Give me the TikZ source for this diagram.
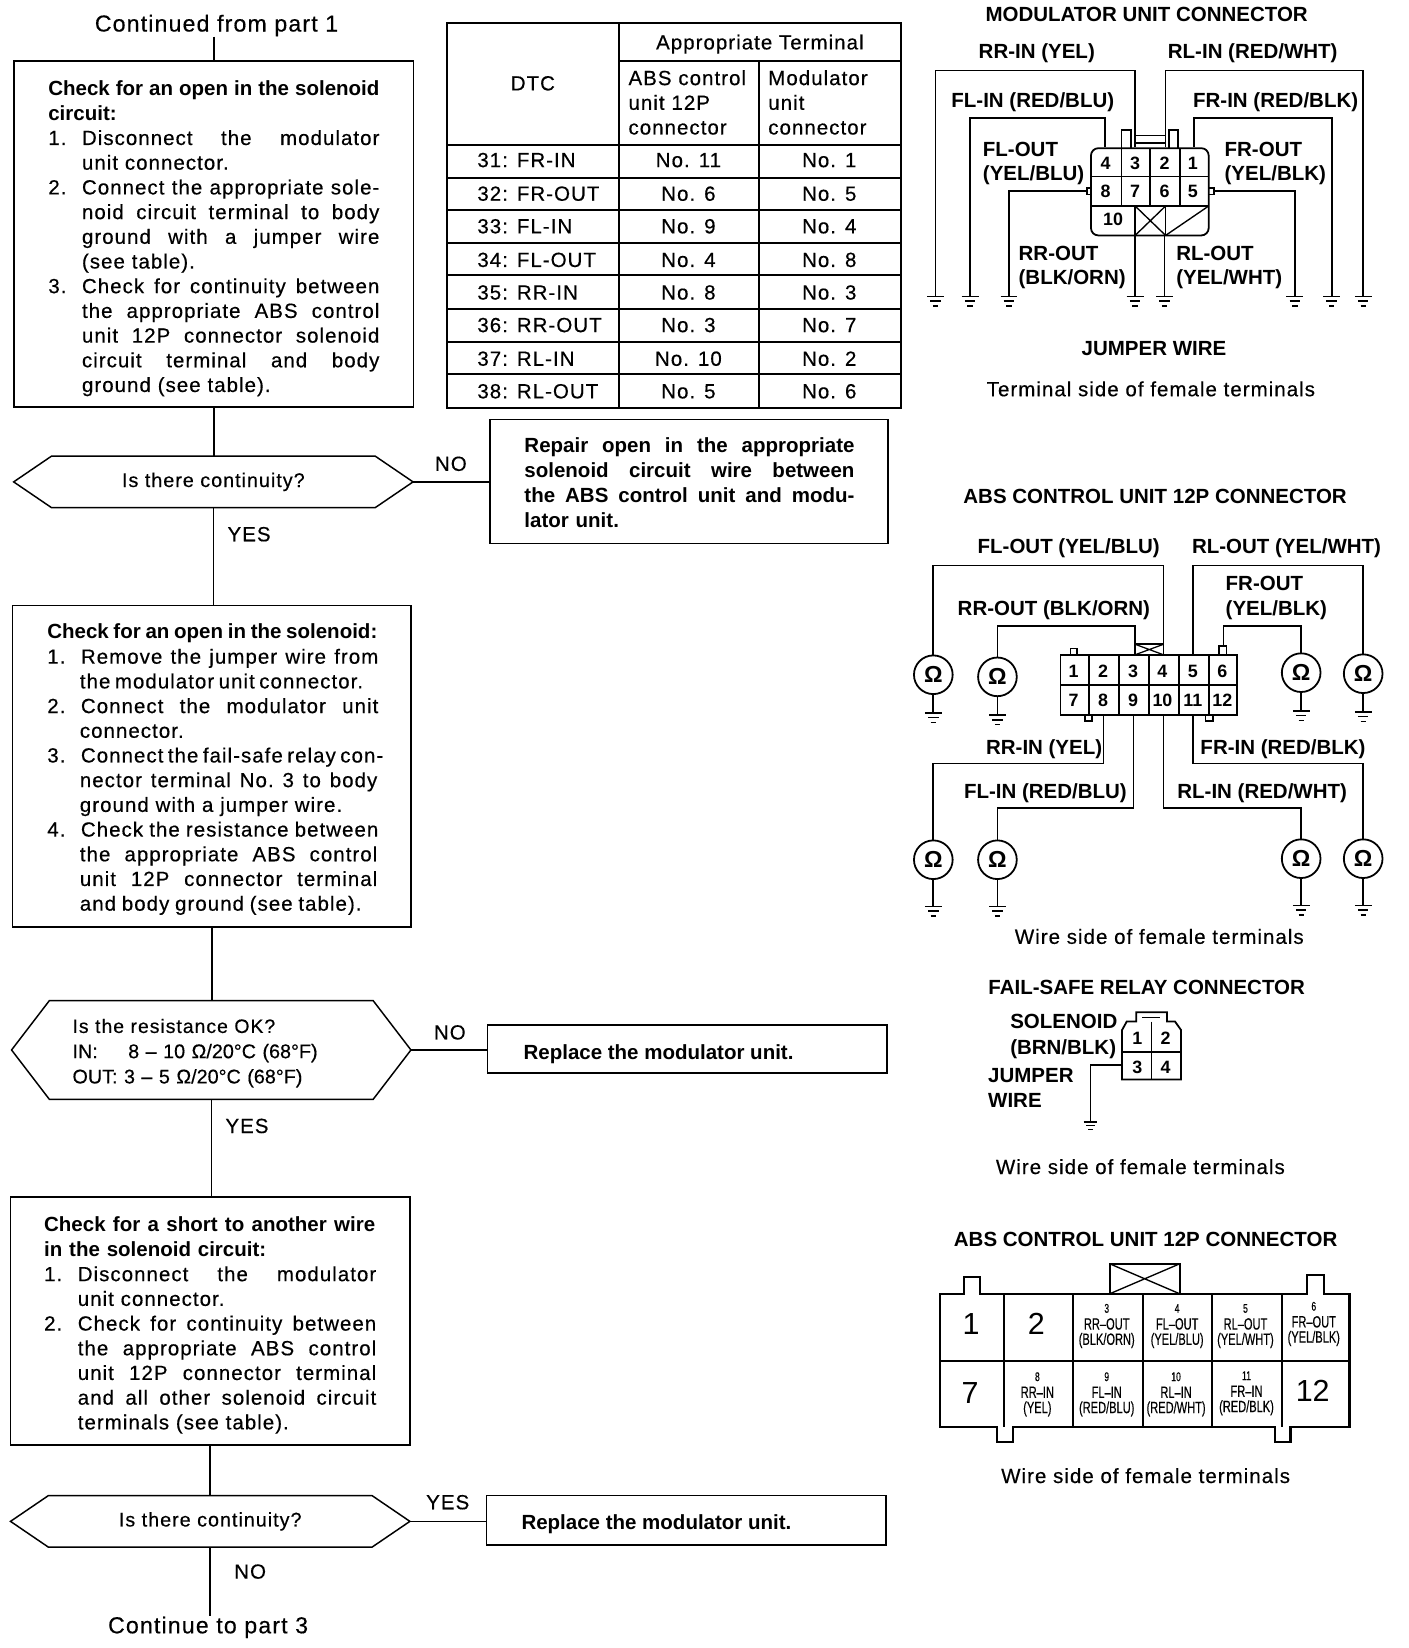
\documentclass[tikz,border=0pt]{standalone}
\usepackage{fontspec}
\setmainfont[LetterSpace=5,FakeBold=0.4]{Liberation Sans}
\newfontfamily\hdfam{Liberation Sans}
\newfontfamily\nofam[FakeBold=0.4]{Liberation Sans}
\newcommand\bld[1]{{\hdfam\bfseries #1}}
\newcommand\jl[2]{\makebox[#1pt][s]{\frenchspacing\spaceskip=0pt\xspaceskip=0pt #2}}
\newcommand\itm[2]{\makebox[32pt][l]{#1}#2}
\newcommand\hexa[1]{\draw[flow] (#1.west) -- ([xshift=36pt]#1.north west) -- ([xshift=-36pt]#1.north east) -- (#1.east) -- ([xshift=-36pt]#1.south east) -- ([xshift=36pt]#1.south west) -- cycle;}
\newcommand\nar[1]{\scalebox{.68}[1]{#1}}
\tikzset{
  flow/.style={line width=1.4pt,line join=miter},
  wire/.style={line width=1.7pt,line join=miter},
  boxs/.style={draw,line width=1.5pt,inner sep=0pt,outer sep=0pt},
  hexn/.style={inner sep=0pt,outer sep=0pt},
  blk/.style={anchor=north west,inner sep=0pt,outer sep=0pt,text width=345pt,align=left,font=\fontsize{19.5}{23.5}\selectfont},
  rg/.style={inner sep=0pt,anchor=base west,yshift=-7pt,font=\fontsize{19.5}{23.5}\selectfont},
  rc/.style={rg,anchor=base},
  hl/.style={inner sep=0pt,anchor=base west,yshift=-7pt,font=\hdfam\bfseries\fontsize{19.5}{23.5}\selectfont},
  hc/.style={hl,anchor=base},
  pin/.style={inner sep=0pt,anchor=base,yshift=-6pt,font=\hdfam\bfseries\fontsize{17}{20}\selectfont},
  smalltxt/.style={inner sep=0pt,anchor=base,yshift=-5pt,font=\nofam\fontsize{15.5}{18}\selectfont},
  smallnum/.style={inner sep=0pt,anchor=base,yshift=-4pt,font=\nofam\fontsize{12}{14}\selectfont},
  bignum/.style={inner sep=0pt,anchor=base,yshift=-10pt,font=\hdfam\fontsize{29}{32}\selectfont},
  meter/.style={circle,draw,line width=1.7pt,minimum size=36.8pt,inner sep=0pt,outer sep=0pt,font=\hdfam\bfseries\fontsize{22}{24}\selectfont},
  gnd/.pic={\draw[line width=1.4pt] (-8,0)--(8,0) (-5,4.5)--(5,4.5) (-2.5,9)--(2.5,9);},
}
\begin{document}
\begin{tikzpicture}[x=1pt,y=-1pt]
\useasboundingbox (0,0) rectangle (1340,1568);
\fill[white] (0,0) rectangle (1340,1568);

% ---------- flow, left column
\node[rc,font=\fontsize{22}{26}\selectfont,yshift=-1pt] (cont) at (206,22) {Continued from part 1};
\node[boxs,minimum width=380pt,minimum height=329pt] (b1) at (203.5,222.5) {};
\node[blk] (b1t) at (46,74.5) {%
\bld{\jl{315}{Check for an open in the solenoid}}\strut\\
\bld{circuit:}\\
\itm{1.}{\jl{283}{Disconnect the modulator}}\\
\hspace*{32pt}unit connector.\\
\itm{2.}{\jl{283}{Connect the appropriate sole-}}\\
\hspace*{32pt}\jl{283}{noid circuit terminal to body}\\
\hspace*{32pt}\jl{283}{ground with a jumper wire}\\
\hspace*{32pt}(see table).\\
\itm{3.}{\jl{283}{Check for continuity between}}\\
\hspace*{32pt}\jl{283}{the appropriate ABS control}\\
\hspace*{32pt}\jl{283}{unit 12P connector solenoid}\\
\hspace*{32pt}\jl{283}{circuit terminal and body}\\
\hspace*{32pt}ground (see table).};

\node[hexn,minimum width=380pt,minimum height=49pt,font=\fontsize{18.8}{22}\selectfont] (d1) at (203,458.5) {\raisebox{-3pt}{Is there continuity?}};
\hexa{d1}
\node[rc] (no1) at (429,441) {NO};
\node[rc] (yes1) at (237,508) {YES};
\node[boxs,minimum width=379pt,minimum height=118pt] (r1) at (655.5,458) {};
\node[blk] (r1t) at (499,414.5) {%
\bld{\jl{314}{Repair open in the appropriate}}\strut\\
\bld{\jl{314}{solenoid circuit wire between}}\\
\bld{\jl{314}{the ABS control unit and modu-}}\\
\bld{lator unit.}};

\node[boxs,minimum width=379pt,minimum height=306pt] (b2) at (201.5,729) {};
\node[blk] (b2t) at (45,591.5) {%
\bld{\jl{314}{Check for an open in the solenoid:}}\strut\\
\itm{1.}{\jl{283}{Remove the jumper wire from}}\\
\hspace*{31pt}\jl{266}{the modulator unit connector.}\\
\itm{2.}{\jl{283}{Connect the modulator unit}}\\
\hspace*{31pt}connector.\\
\itm{3.}{\jl{283}{Connect the fail-safe relay con-}}\\
\hspace*{31pt}\jl{283}{nector terminal No. 3 to body}\\
\hspace*{31pt}ground with a jumper wire.\\
\itm{4.}{\jl{283}{Check the resistance between}}\\
\hspace*{31pt}\jl{283}{the appropriate ABS control}\\
\hspace*{31pt}\jl{283}{unit 12P connector terminal}\\
\hspace*{31pt}\jl{268}{and body ground (see table).}};

\node[hexn,minimum width=380pt,minimum height=94pt] (d2) at (201,999) {};
\hexa{d2}
\node[blk,font=\fontsize{18.5}{24}\selectfont] (d2t) at (69,966) {%
Is the resistance OK?\strut\\
{\nofam\fontsize{18.8}{24}\selectfont\makebox[53pt][l]{IN:}8 – 10 Ω/20°C (68°F)}\\
{\nofam\fontsize{18.8}{24}\selectfont OUT: 3 – 5 Ω/20°C (68°F)}};
\node[rc] (no2) at (428,982) {NO};
\node[rc] (yes2) at (235,1071) {YES};
\node[boxs,minimum width=380pt,minimum height=46pt] (r2) at (654,998) {};
\node[hl] (r2t) at (498,1001) {Replace the modulator unit.};

\node[boxs,minimum width=380pt,minimum height=236pt] (b3) at (200,1257) {};
\node[blk] (b3t) at (42,1155.5) {%
\bld{\jl{315}{Check for a short to another wire}}\strut\\
\bld{in the solenoid circuit:}\\
\itm{1.}{\jl{284}{Disconnect the modulator}}\\
\hspace*{32pt}unit connector.\\
\itm{2.}{\jl{284}{Check for continuity between}}\\
\hspace*{32pt}\jl{284}{the appropriate ABS control}\\
\hspace*{32pt}\jl{284}{unit 12P connector terminal}\\
\hspace*{32pt}\jl{284}{and all other solenoid circuit}\\
\hspace*{32pt}terminals (see table).};

\node[hexn,minimum width=380pt,minimum height=49pt,font=\fontsize{18.8}{22}\selectfont] (d3) at (200,1447.5) {\raisebox{-2pt}{Is there continuity?}};
\hexa{d3}
\node[rc] (yes3) at (426,1429) {YES};
\node[rc] (no3) at (238,1495) {NO};
\node[boxs,minimum width=380pt,minimum height=47pt] (r3) at (653,1446.5) {};
\node[hl] (r3t) at (496,1448) {Replace the modulator unit.};
\node[rc,font=\fontsize{22}{26}\selectfont,yshift=-1pt] (contb) at (198,1546) {Continue to part 3};

\draw[flow] (cont.south -| b1.north) -- (b1.north);
\draw[flow] (b1.south) -- (d1.north -| b1.south);
\draw[flow] (d1.east) -- (d1.east -| r1.west);
\draw[flow] (d1.south) -- (b2.north -| d1.south);
\draw[flow] (b2.south) -- (d2.north -| b2.south);
\draw[flow] (d2.east) -- (d2.east -| r2.west);
\draw[flow] (d2.south) -- (b3.north -| d2.south);
\draw[flow] (b3.south) -- (d3.north -| b3.south);
\draw[flow] (d3.east) -- (d3.east -| r3.west);
\draw[flow] (d3.south) -- (contb.north -| d3.south);

% ---------- table
\draw[line width=1.9pt] (425,22) rectangle (857,388);
\draw[line width=1.7pt] (589,22) -- (589,388) (722,58) -- (722,388) (589,58) -- (857,58);
\foreach \yy in {138,169,200,231,262,294,325,356} \draw[line width=1.8pt] (425,\yy) -- (857,\yy);
\node[rc] (tha) at (723,40) {Appropriate Terminal};
\node[rc] (thd) at (507,79) {DTC};
\node[blk,text width=130pt] (thb) at (598,64.5) {ABS control\strut\\unit 12P\\connector};
\node[blk,text width=130pt] (thc) at (731,64.5) {Modulator\strut\\unit\\connector};
\foreach \i/\dd/\aa/\mm/\yy in {1/31: FR-IN/No. 11/No. 1/152,2/32: FR-OUT/No. 6/No. 5/184,3/33: FL-IN/No. 9/No. 4/215,4/34: FL-OUT/No. 4/No. 8/247,5/35: RR-IN/No. 8/No. 3/278,6/36: RR-OUT/No. 3/No. 7/309,7/37: RL-IN/No. 10/No. 2/341,8/38: RL-OUT/No. 5/No. 6/372}{
  \node[rg] (rd\i) at (454,\yy) {\dd};
  \node[rc] (ra\i) at (655,\yy) {\aa};
  \node[rc] (rm\i) at (789,\yy) {\mm};
}

% ---------- modulator unit connector
\node[hc] (mt) at (1091,13) {MODULATOR UNIT CONNECTOR};
\node[hl] (ml1) at (931,49) {RR-IN (YEL)};
\node[hl] (ml2) at (1111,49) {RL-IN (RED/WHT)};
\node[hl] (ml3) at (905,95) {FL-IN (RED/BLU)};
\node[hl] (ml4) at (1135,95) {FR-IN (RED/BLK)};
\node[hl] (ml5) at (935,142) {FL-OUT};
\node[hl] (ml6) at (935,165) {(YEL/BLU)};
\node[hl] (ml7) at (1165,142) {FR-OUT};
\node[hl] (ml8) at (1165,165) {(YEL/BLK)};
\node[hl] (ml9) at (969,241) {RR-OUT};
\node[hl] (ml10) at (969,264) {(BLK/ORN)};
\node[hl] (ml11) at (1119,241) {RL-OUT};
\node[hl] (ml12) at (1119,264) {(YEL/WHT)};
\node[hc] (ml13) at (1098,331) {JUMPER WIRE};
\node[rc] (ml14) at (1095,370) {Terminal side of female terminals};
% body
\draw[wire,rounded corners=7pt] (1038,196) -- (1038,141) -- (1150,141) -- (1150,224) -- (1038,224) -- cycle;
\draw[wire] (1038,168) -- (1150,168) (1038,196) -- (1150,196);
\draw[wire] (1067,141) -- (1067,196) (1094.5,141) -- (1094.5,196) (1122.5,141) -- (1122.5,196);
\draw[wire] (1080,196) -- (1080,224) (1109,196) -- (1109,224);
\draw[line width=1.3pt] (1080,196) -- (1109,224) (1109,196) -- (1080,224) (1109,224) -- (1150,196);
\draw[wire] (1067,141) -- (1067,124) -- (1076,124) -- (1076,141) (1112,141) -- (1112,124) -- (1121,124) -- (1121,141);
\draw[line width=1.2pt] (1080,129) -- (1109,129) (1080,136) -- (1109,136);
\draw[wire] (1038,179) -- (1034,179) -- (1034,185) -- (1038,185) (1150,179) -- (1155,179) -- (1155,185) -- (1150,185);
\foreach \n/\xx/\yy in {4/1052/155,3/1080/155,2/1108/155,1/1135/155,8/1052/182,7/1080/182,6/1108/182,5/1135/182,10/1059/209}
  \node[pin] (mp\n) at (\xx,\yy) {\n};
% wires
\foreach \n/\xx in {1/890,2/923,3/960,4/1080,5/1108,6/1232,7/1267,8/1297}{
  \coordinate (mg\n) at (\xx,282);
  \pic at (mg\n) {gnd};
}
\draw[wire] (mg1) -- ++(0,-215) -| (1080,140);
\draw[wire] (mg2) -- ++(0,-170) -| (1051,140);
\draw[wire] (mg3) -- ++(0,-100) -- (1034,182);
\draw[wire] (mg4) -- (1080,224);
\draw[wire] (mg5) -- (1108,224);
\draw[wire] (mg6) -- ++(0,-100) -- (1155,182);
\draw[wire] (mg7) -- ++(0,-170) -| (1136,140);
\draw[wire] (mg8) -- ++(0,-215) -| (1109,140);

% ---------- ABS connector with meters
\node[hc] (at) at (1099,472) {ABS CONTROL UNIT 12P CONNECTOR};
\node[hl] (al1) at (930,520) {FL-OUT (YEL/BLU)};
\node[hl] (al2) at (1134,520) {RL-OUT (YEL/WHT)};
\node[hl] (al3) at (1166,555) {FR-OUT};
\node[hl] (al4) at (1166,579) {(YEL/BLK)};
\node[hl] (al5) at (911,579) {RR-OUT (BLK/ORN)};
\node[hl] (al6) at (938,711) {RR-IN (YEL)};
\node[hl] (al7) at (1142,711) {FR-IN (RED/BLK)};
\node[hl] (al8) at (917,753) {FL-IN (RED/BLU)};
\node[hl] (al9) at (1120,753) {RL-IN (RED/WHT)};
\node[rc] (al10) at (1103,891) {Wire side of female terminals};
\draw[wire] (1009,623) rectangle (1177,680.5);
\draw[wire] (1009,652) -- (1177,652);
\draw[wire] (1036,623) -- (1036,680.5) (1064.5,623) -- (1064.5,680.5) (1093,623) -- (1093,680.5) (1121.5,623) -- (1121.5,680.5) (1150,623) -- (1150,680.5);
\draw[wire] (1018.5,623) -- (1018.5,617) -- (1025,617) -- (1025,623) (1160,623) -- (1160,615) -- (1167,615) -- (1167,623);
\draw[wire] (1080,623) -- (1080,613) -- (1107,613) -- (1107,623);
\draw[line width=1.2pt] (1080,613) -- (1107,623) (1107,613) -- (1080,623);
\draw[wire] (1032,680.5) -- (1032,686) -- (1039,686) -- (1039,680.5) (1147,680.5) -- (1147,686) -- (1154,686) -- (1154,680.5);
\foreach \n/\xx/\yy in {1/1021.5/639,2/1049.5/639,3/1078/639,4/1106/639,5/1135/639,6/1163/639,7/1021.5/666,8/1049.5/666,9/1078/666,10/1106/666,11/1135/666,12/1163/666}
  \node[pin] (ap\n) at (\xx,\yy) {\n};
\node[meter] (w1) at (888,642) {Ω};
\node[meter] (w2) at (949,644) {Ω};
\node[meter] (w3) at (1238,640) {Ω};
\node[meter] (w4) at (1297,641) {Ω};
\node[meter] (w5) at (888,818) {Ω};
\node[meter] (w6) at (949,818) {Ω};
\node[meter] (w7) at (1238,817) {Ω};
\node[meter] (w8) at (1297,817) {Ω};
\foreach \n in {1,2,3,4}{
  \draw[wire] (w\n.south) -- ++(0,18) coordinate (wg\n);
  \pic at (wg\n) {gnd};
}
\foreach \n in {5,6,7,8}{
  \draw[wire] (w\n.south) -- ++(0,26) coordinate (wg\n);
  \pic at (wg\n) {gnd};
}
\draw[wire] (w1.north) -- (888,538) -| (1107,613);
\draw[wire] (w2.north) -- (949,595.5) -| (1080,613);
\draw[wire] (w4.north) -- (1297,538) -| (1135,623);
\draw[wire] (w3.north) -- (1238,595.5) -| (1164,615);
\draw[wire] (w5.north) -- (888,726.5) -| (1050,680.5);
\draw[wire] (w6.north) -- (949,769) -| (1078.5,680.5);
\draw[wire] (w7.north) -- (1238,769) -| (1107,680.5);
\draw[wire] (w8.north) -- (1297,726.5) -| (1135,680.5);

% ---------- fail-safe relay connector
\node[hc] (ft) at (1091,939) {FAIL-SAFE RELAY CONNECTOR};
\node[hl] (fl1) at (961,972) {SOLENOID};
\node[hl] (fl2) at (961,996) {(BRN/BLK)};
\node[hl] (fl3) at (940,1023) {JUMPER};
\node[hl] (fl4) at (940,1047) {WIRE};
\node[rc] (fl5) at (1085,1110) {Wire side of female terminals};
\draw[wire] (1067.6,1027) -- (1067.6,980) -- (1072,972) -- (1081,972) -- (1081,963) -- (1110.4,963) -- (1110.4,972) -- (1118,972) -- (1123.7,980) -- (1123.7,1027) -- cycle;
\draw[wire] (1067.6,1001) -- (1123.7,1001) (1095.5,972) -- (1095.5,1027);
\draw[line width=1.2pt] (1087,968) -- (1104,968);
\foreach \n/\xx/\yy in {1/1082/988,2/1109/988,3/1082/1015,4/1109/1015}
  \node[pin] (fp\n) at (\xx,\yy) {\n};
\coordinate (fg) at (1037.5,1067.5);
\draw[wire] (1067.6,1013) -| (fg);
\pic[scale=.8] at (fg) {gnd};

% ---------- large ABS connector
\node[hc] (bt) at (1090,1179) {ABS CONTROL UNIT 12P CONNECTOR};
\draw[line width=2pt] (894.6,1231) -- (916.8,1231) -- (916.8,1215) -- (932.7,1215) -- (932.7,1231) -- (1055.8,1231) -- (1122.5,1231) -- (1243.7,1231) -- (1243.7,1213) -- (1260,1213) -- (1260,1231) -- (1284,1231) -- (1284,1358) -- (1227.8,1358) -- (1227.8,1372) -- (1213.5,1372) -- (1213.5,1358) -- (963.8,1358) -- (963.8,1372) -- (948.6,1372) -- (948.6,1358) -- (894.6,1358) -- cycle;
\draw[line width=1.8pt] (894.6,1294.5) -- (1284,1294.5);
\draw[line width=1.5pt] (955,1231) -- (955,1358) (1021,1231) -- (1021,1358) (1087.6,1231) -- (1087.6,1358) (1153,1231) -- (1153,1358) (1220,1231) -- (1220,1358);
\draw[line width=2pt] (1055.8,1231) -- (1055.8,1202.4) -- (1122.5,1202.4) -- (1122.5,1231);
\draw[line width=1.3pt] (1055.8,1202.4) -- (1122.5,1231) (1122.5,1202.4) -- (1055.8,1231);
\node[bignum] (c1) at (924,1260) {1};
\node[bignum] (c2) at (986,1260) {2};
\node[bignum] (c7) at (923,1325) {7};
\node[bignum] (c12) at (1249,1323) {12};
\foreach \n/\aa/\bb/\xx/\ya in {3/RR–OUT/{(BLK/ORN)}/1053/1245,4/FL–OUT/{(YEL/BLU)}/1120/1245,5/RL–OUT/{(YEL/WHT)}/1185/1245,6/FR–OUT/{(YEL/BLK)}/1250/1243,8/RR–IN/{(YEL)}/987/1310,9/FL–IN/{(RED/BLU)}/1053/1310,10/RL–IN/{(RED/WHT)}/1119/1310,11/FR–IN/{(RED/BLK)}/1186/1309}{
  \node[smallnum] (cn\n) at (\xx,\ya) {\nar{\n}};
  \node[smalltxt] (ca\n) at (\xx,\ya+15) {\nar{\aa}};
  \node[smalltxt] (cb\n) at (\xx,\ya+29.5) {\nar{\bb}};
}
\node[rc] (bl) at (1090,1404) {Wire side of female terminals};
\end{tikzpicture}
\end{document}
